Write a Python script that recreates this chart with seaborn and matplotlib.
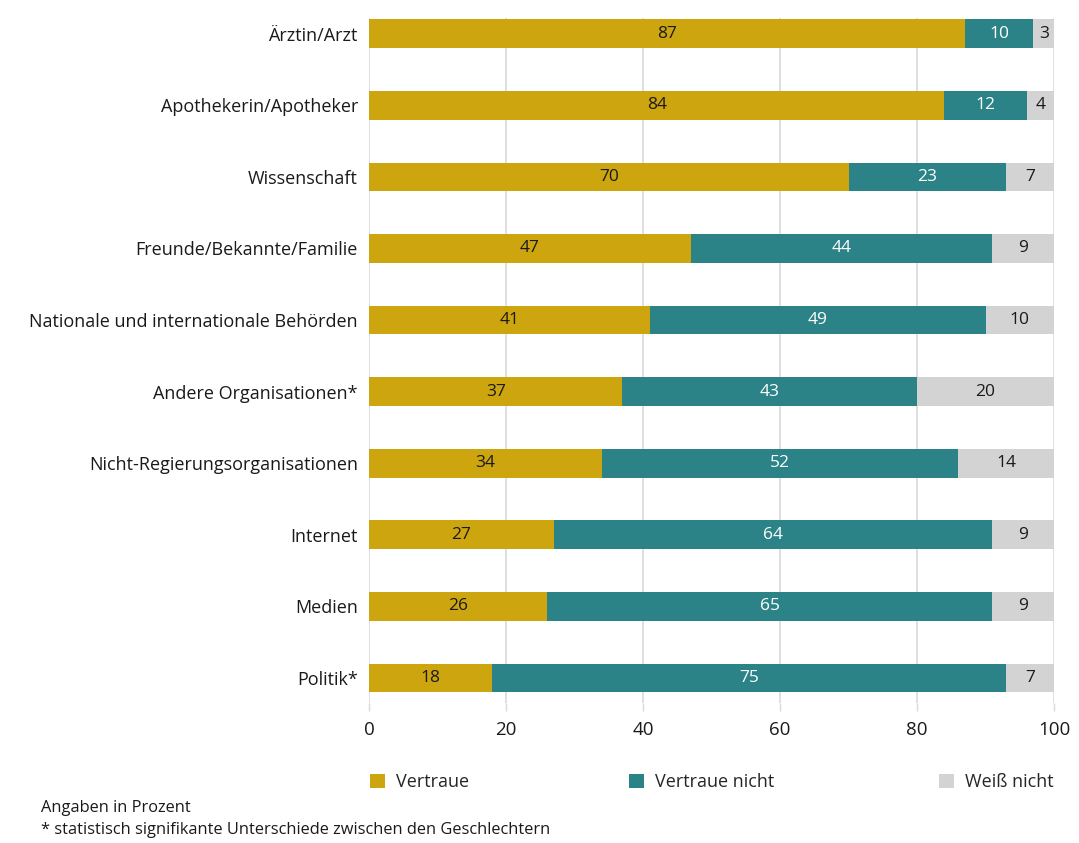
import matplotlib
matplotlib.use("Agg")
import matplotlib.pyplot as plt
import seaborn as sns
import pandas as pd
from matplotlib.patches import Patch

categories = [
    "Ärztin/Arzt",
    "Apothekerin/Apotheker",
    "Wissenschaft",
    "Freunde/Bekannte/Familie",
    "Nationale und internationale Behörden",
    "Andere Organisationen*",
    "Nicht-Regierungsorganisationen",
    "Internet",
    "Medien",
    "Politik*",
]
vertraue = [87, 84, 70, 47, 41, 37, 34, 27, 26, 18]
vertraue_nicht = [10, 12, 23, 44, 49, 43, 52, 64, 65, 75]
weiss_nicht = [3, 4, 7, 9, 10, 20, 14, 9, 9, 7]

series_names = ["Vertraue", "Vertraue nicht", "Weiß nicht"]
colors = ["#CCA50F", "#2C8387", "#D3D3D3"]
text_colors = ["#1a1a1a", "white", "#1a1a1a"]
x_ticks = [0, 20, 40, 60, 80, 100]

sns.set_theme(style="white")
plt.rcParams["font.family"] = ["Open Sans", "DejaVu Sans"]

df = pd.DataFrame({
    "Kategorie": categories,
    "Vertraue": vertraue,
    "Vertraue nicht": vertraue_nicht,
    "Weiß nicht": weiss_nicht,
})
df["c1"] = df["Vertraue"]
df["c2"] = df["Vertraue"] + df["Vertraue nicht"]
df["c3"] = df["c2"] + df["Weiß nicht"]

fig = plt.figure(figsize=(10.79, 8.43), dpi=100)
ax = fig.add_axes([369 / 1079, 1 - 703 / 843, (1054 - 369) / 1079, (703 - 18) / 843])

# stacked bars: draw cumulative totals from back to front
for col, color in zip(["c3", "c2", "c1"], colors[::-1]):
    sns.barplot(data=df, y="Kategorie", x=col, orient="h", color=color,
                width=0.4, saturation=1, ax=ax, zorder=3, edgecolor="none")

# value labels centred in each segment
for i, row in df.iterrows():
    starts = [0, row["c1"], row["c2"]]
    for name, start, tc in zip(series_names, starts, text_colors):
        val = row[name]
        ax.text(start + val / 2, i, f"{val}", ha="center", va="center",
                color=tc, fontsize=12.5, zorder=4)

ax.set_xlim(0, 100)
ax.set_ylim(9.35, -0.22)
ax.set_xticks(x_ticks)
ax.set_xticklabels([str(t) for t in x_ticks], fontsize=13.5, color="#1a1a1a")
ax.tick_params(axis="y", labelsize=13, labelcolor="#1a1a1a", length=0, pad=8)
ax.tick_params(axis="x", length=6, width=1, color="#d9d9d9", pad=7, bottom=True)
ax.set_xlabel("")
ax.set_ylabel("")
ax.grid(axis="x", color="#d9d9d9", linewidth=1.2, zorder=0)
ax.grid(axis="y", visible=False)
for s in ax.spines.values():
    s.set_visible(False)

handles = [Patch(facecolor=c, edgecolor="none") for c in colors]
leg_x = [370, 629, 939]
for h, name, lx in zip(handles, series_names, leg_x):
    fig.legend([h], [name], loc="center left",
               bbox_to_anchor=(lx / 1079, 1 - 782 / 843), frameon=False,
               fontsize=13, handlelength=0.85, handleheight=0.85,
               handletextpad=0.6, borderaxespad=0, borderpad=0)

fig.text(41 / 1079, 1 - 808 / 843, "Angaben in Prozent", fontsize=11.8,
         va="center", ha="left", color="#1a1a1a")
fig.text(41 / 1079, 1 - 830 / 843,
         "* statistisch signifikante Unterschiede zwischen den Geschlechtern",
         fontsize=11.8, va="center", ha="left", color="#1a1a1a")

fig.savefig("out.png", dpi=100)
